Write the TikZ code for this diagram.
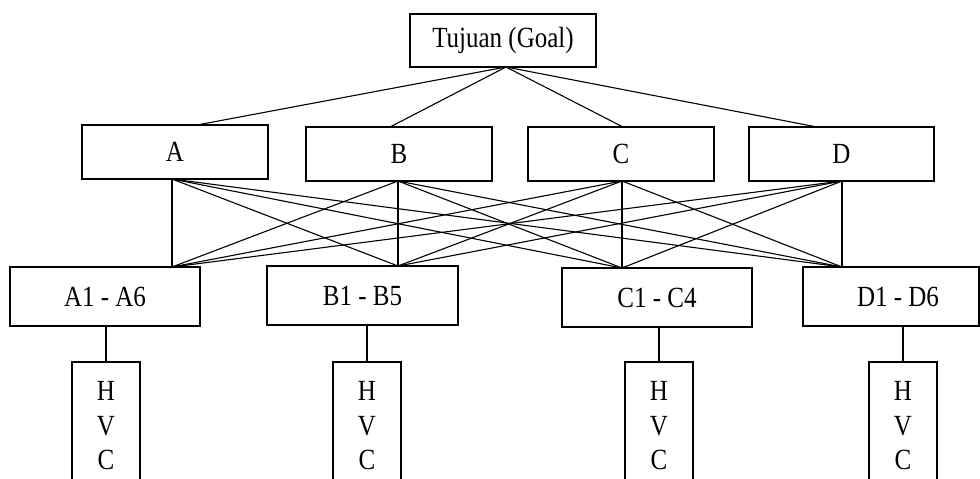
\documentclass[tikz,border=0pt]{standalone}
\usepackage{fontspec}
\setmainfont{Liberation Serif}
\usepackage{graphicx}
\newcommand{\vs}[2][0pt]{\raisebox{#1}{\scalebox{1}[1.17]{#2}}}
\begin{document}
\begin{tikzpicture}[x=1pt,y=-1pt,
  box/.style={draw, line width=1.3pt, inner sep=0pt, outer sep=0pt, font=\fontsize{25}{30}\selectfont},
  subbox/.style={box, line width=1.9pt, minimum height=59},
  critbox/.style={box, minimum height=54},
  hvcbox/.style={box, minimum width=68, minimum height=128, align=center, font=\fontsize{25}{34.5}\selectfont},
  link/.style={line width=1.1pt}]
\path[use as bounding box, clip] (0,0) rectangle (980,479);
\fill[white] (0,0) rectangle (980,479);
% goal
\node[box, minimum width=186, minimum height=53] (g) at (503,40.5) {\vs[-2.5pt]{Tujuan (Goal)}};
% criteria
\node[critbox, minimum width=186] (a) at (175,152) {\vs[-4pt]{A}};
\node[critbox, minimum width=186] (b) at (399,154) {\vs[-4pt]{B}};
\node[critbox, minimum width=186] (c) at (621,154) {\vs[-4pt]{C}};
\node[critbox, minimum width=185] (d) at (841.5,154) {\vs[-4pt]{D}};
% sub-criteria
\node[subbox, minimum width=190] (a3) at (105,296.5) {\vs[-2pt]{A1 - A6}};
\node[subbox, minimum width=191] (b3) at (362.5,295.5) {\vs[-2pt]{B1 - B5}};
\node[subbox, minimum width=190] (c3) at (657,297.5) {\vs[-2pt]{C1 - C4}};
\node[subbox, minimum width=176] (d3) at (891,296.5) {\hspace*{14pt}\vs[-2pt]{D1 - D6}};
% HVC boxes
\node[hvcbox] (a4) at (106,426) {\vs{H}\\\vs{V}\\\vs{C}};
\node[hvcbox] (b4) at (367,426) {\vs{H}\\\vs{V}\\\vs{C}};
\node[hvcbox] (c4) at (659,426) {\vs{H}\\\vs{V}\\\vs{C}};
\node[hvcbox] (d4) at (903,426) {\vs{H}\\\vs{V}\\\vs{C}};
% attachment x positions
\coordinate (gx) at (506,0);
\coordinate (ta) at (197,0);
\coordinate (tb) at (390,0);
\coordinate (tc) at (623,0);
\coordinate (td) at (817,0);
\coordinate (xa) at (172,0);
\coordinate (xb) at (398,0);
\coordinate (xc) at (622,0);
\coordinate (xd) at (842,0);
% goal to criteria
\foreach \s in {a,b,c,d}
  \draw[link] (g.south -| gx) -- (\s.north -| t\s);
% criteria to sub-criteria
\foreach \s in {a,b,c,d}
  \foreach \t in {a,b,c,d}
    \draw[link] (\s.south -| x\s) -- (\t3.north -| x\t);
% sub-criteria to HVC
\foreach \s in {a,b,c,d}
  \draw[link] (\s4.north) -- (\s4.north |- \s3.south);
\end{tikzpicture}
\end{document}
